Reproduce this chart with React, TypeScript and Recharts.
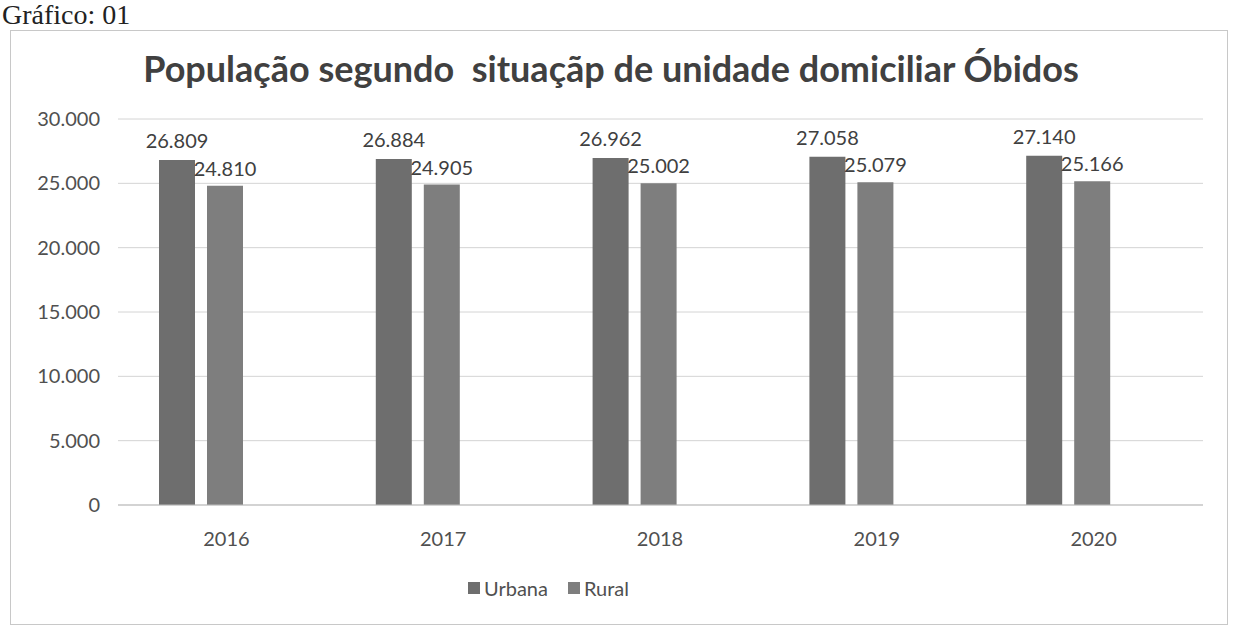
import React from "react";
import { BarChart, Bar, XAxis, YAxis, CartesianGrid, Legend, LabelList } from "recharts";

const years = ["2016", "2017", "2018", "2019", "2020"];
const urbana = [26809, 26884, 26962, 27058, 27140];
const rural = [24810, 24905, 25002, 25079, 25166];
const yTicks = [0, 5000, 10000, 15000, 20000, 25000, 30000];
const seriesNames = ["Urbana", "Rural"];
const seriesColors = ["#6e6e6e", "#7e7e7e"];

const data = years.map((y, i) => ({ year: y, Urbana: urbana[i], Rural: rural[i] }));

const fmt = (v: number) => v.toLocaleString("de-DE");
const FONT = "Lato, 'Open Sans', sans-serif";

const LegendContent = () => (
  <div style={{ display: "flex", justifyContent: "center", gap: 20, fontFamily: FONT, fontSize: 20, color: "#505050", paddingRight: 106, paddingTop: 21, lineHeight: "24px" }}>
    {seriesNames.map((n, i) => (
      <div key={n} style={{ display: "flex", alignItems: "center", gap: 4 }}>
        <span style={{ display: "inline-block", width: 12, height: 12, background: seriesColors[i] }} />
        <span>{n}</span>
      </div>
    ))}
  </div>
);

export default function App() {
  return (
    <div style={{ position: "absolute", left: 0, top: 0, width: 1233, height: 628, background: "#fff" }}>
      <div style={{ position: "absolute", left: 2, top: 0, fontFamily: "'Liberation Serif', serif", fontSize: 28, lineHeight: "30px", color: "#222" }}>
        Gráfico: 01
      </div>
      <div style={{ position: "absolute", left: 10, top: 30, width: 1216, height: 593, border: "1px solid #c8c8c8" }} />
      <div style={{ position: "absolute", left: 0, top: 46, width: 1222, textAlign: "center", fontFamily: FONT, fontWeight: 700, fontSize: 36, color: "#404040", whiteSpace: "pre" }}>
        {"População segundo  situaçãp de unidade domiciliar Óbidos"}
      </div>
      <div style={{ position: "absolute", left: 0, top: 0 }}>
        <BarChart width={1233} height={628} data={data} margin={{ top: 119, right: 30, left: 0, bottom: 26 }} barSize={36} barGap={12}>
          <CartesianGrid vertical={false} stroke="#d4d4d4" />
          <XAxis dataKey="year" axisLine={{ stroke: "#bdbdbd" }} tickLine={false} tickSize={0} tickMargin={27} height={50}
            padding={{ left: -25, right: 26 }}
            tick={{ fill: "#505050", fontSize: 20, fontFamily: FONT, dx: 25 }} />
          <YAxis width={118} domain={[0, 30000]} ticks={yTicks} tickFormatter={fmt} axisLine={false} tickLine={false} tickSize={0} tickMargin={18}
            tick={{ fill: "#505050", fontSize: 20, fontFamily: FONT }} />
          <Legend verticalAlign="bottom" height={47} content={<LegendContent />} />
          <Bar dataKey="Urbana" fill={seriesColors[0]} isAnimationActive={false}>
            <LabelList dataKey="Urbana" position="top" formatter={fmt} style={{ fill: "#404040", fontSize: 20, fontFamily: FONT }} offset={12} />
          </Bar>
          <Bar dataKey="Rural" fill={seriesColors[1]} isAnimationActive={false}>
            <LabelList dataKey="Rural" position="top" formatter={fmt} style={{ fill: "#404040", fontSize: 20, fontFamily: FONT }} offset={10} />
          </Bar>
        </BarChart>
      </div>
    </div>
  );
}
